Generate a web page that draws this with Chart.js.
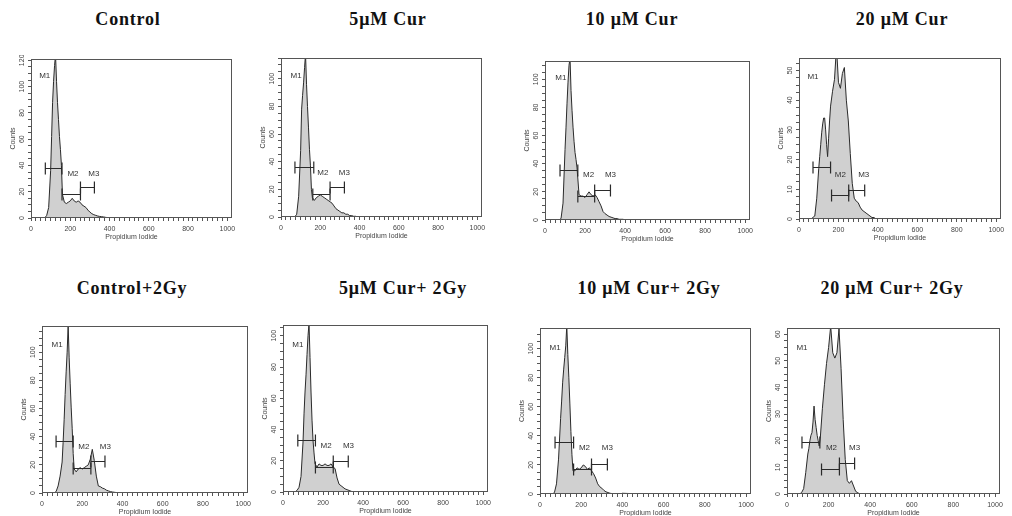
<!DOCTYPE html>
<html>
<head>
<meta charset="utf-8">
<script src="https://cdn.jsdelivr.net/npm/chart.js@4.4.0/dist/chart.umd.min.js"></script>
<style>
  body { margin: 0; background: #fff; width: 1012px; height: 516px; position: relative; overflow: hidden; }
  .ttl { position: absolute; font: bold 18px "Liberation Serif", "Times New Roman", serif; letter-spacing: 0.8px; line-height: 18px; color: #111; white-space: nowrap; transform: translateX(-50%); }
  .panel { position: absolute; }
</style>
</head>
<body>
<script>
// propidium iodide channels (x) shared by all histograms
const channels = [0, 50, 60, 70, 80, 90,
  100, 105, 110, 115, 120, 125, 130, 135, 140, 145, 150, 155, 160,
  170, 180, 190, 200, 210, 220, 230, 240, 250, 260, 270, 280, 290, 300, 310, 320, 330, 340, 350, 360, 370, 380, 390, 400,
  500, 1023];

// counts
const countsControl = [0, 0, 0, 0, 2, 8,
  36, 62, 88, 104, 116, 124, 104, 88, 75, 62, 52, 40, 18,
  12, 11, 12, 13, 15, 13, 12, 13, 12, 10, 9, 8, 6, 4.5, 3.3, 2.5, 2, 1.5, 1.2, 1, 0.8, 0.5, 0.3, 0.3,
  0, 0];
const counts5Cur = [0, 0, 0, 0, 2, 15,
  48, 78, 88, 97, 108, 118, 96, 80, 65, 49, 37, 20, 14,
  12, 14, 15, 16, 15, 14, 13, 12, 11, 10, 8, 6, 5, 4, 3, 3, 2, 2, 1, 1, 0.5, 0.5, 0, 0,
  0, 0];
const counts10Cur = [0, 0, 0, 0, 1, 12,
  50, 66, 83, 98, 110, 115, 92, 78, 66, 56, 48, 43, 37,
  18, 17, 17, 16, 18, 20, 18, 17, 18, 16, 13, 10, 6, 4.5, 3.5, 2.5, 2, 1.5, 1, 1, 0.5, 0.5, 0.5, 0,
  0, 0];
const counts20Cur = [0, 0, 0, 0.5, 1, 7,
  17, 21, 25, 29, 32, 34, 34, 30, 25, 21, 27, 33, 38,
  43, 47, 58, 46, 44, 49, 51, 40, 33, 22, 12, 7, 6, 5.5, 4, 3, 2.5, 2, 1.5, 1, 0.5, 0.5, 0, 0,
  0, 0];
const countsControl2Gy = [0, 0, 0, 1, 5, 12,
  22, 36, 52, 70, 86, 100, 119, 96, 78, 61, 46, 28, 17,
  15, 17, 18, 17, 18, 19, 20, 24, 31, 23, 12, 5, 4.5, 3.5, 3, 2, 1.5, 1, 0.7, 0.5, 0.3, 0, 0, 0,
  0, 0];
const counts5Cur2Gy = [0, 0, 0, 1, 3, 10,
  32, 50, 64, 75, 88, 100, 108, 86, 64, 46, 33, 25, 18,
  16, 18, 17, 17, 18, 17, 17, 18, 16, 15, 9, 5, 4, 3, 2, 1.5, 1, 0.5, 0, 0, 0, 0, 0, 0,
  0, 0];
const counts10Cur2Gy = [0, 0, 0, 1, 7, 24,
  52, 64, 77, 86, 94, 102, 116, 96, 80, 62, 43, 27, 16,
  16, 18, 17, 18, 20, 19, 17, 18, 16, 14, 11, 7, 5, 4, 2.5, 1.5, 1, 0.5, 0.3, 0, 0, 0, 0, 0.5,
  0, 0];
const counts20Cur2Gy = [0, 0, 0, 0.5, 2, 8,
  15, 17, 20, 22, 23, 27, 33, 28, 25, 22, 20, 18, 21,
  32, 41, 49, 55, 63, 53, 51, 53, 62, 47, 28, 13, 5, 4, 5, 3, 1, 0.5, 0, 0, 0, 0, 0, 0,
  0, 0];

const series = [countsControl, counts5Cur, counts10Cur, counts20Cur,
  countsControl2Gy, counts5Cur2Gy, counts10Cur2Gy, counts20Cur2Gy];
const titles = ['Control', '5μM Cur', '10 μM Cur', '20 μM Cur',
  'Control+2Gy', '5μM Cur+ 2Gy', '10 μM Cur+ 2Gy', '20 μM Cur+ 2Gy'];

// axis ticks
const xLabels = [0, 200, 400, 600, 800, 1000];
const yMax = [121, 115, 113, 54.2, 118.6, 106.9, 114.3, 62.3];
const yLabels = [
  [0, 20, 40, 60, 80, 100, 120], [0, 20, 40, 60, 80, 100], [0, 20, 40, 60, 80, 100], [0, 10, 20, 30, 40, 50],
  [0, 20, 40, 60, 80, 100], [0, 20, 40, 60, 80, 100], [0, 20, 40, 60, 80, 100], [0, 10, 20, 30, 40, 50, 60]
];

// marker gates M1, M2, M3: [start, end, level]
const gates = [
  [[73, 158, 38], [158, 252, 18.6], [252, 323, 23.7]],
  [[71, 167, 36], [162, 250, 16.6], [250, 323, 22]],
  [[75, 164, 35.5], [164, 248, 17], [248, 327, 21]],
  [[71, 160, 17.4], [165, 252, 8], [252, 333, 9.9]],
  [[70, 155, 37], [155, 243, 17.6], [243, 313, 22.6]],
  [[74, 162, 33], [162, 251, 16], [251, 326, 20]],
  [[73, 163, 36], [163, 250, 17], [250, 327, 21]],
  [[72, 158, 19.4], [166, 252, 9.3], [252, 325, 11.8]]
];
const gateLabels = [
  [[70, 108], [214, 34], [320, 34]],
  [[77, 102], [213, 32], [323, 32]],
  [[79, 101], [218, 32], [327, 32]],
  [[71, 48], [210, 15], [328, 15]],
  [[75, 105], [208, 33], [315, 33]],
  [[74, 94], [215, 29.5], [327, 29.5]],
  [[73, 101], [216, 32], [327, 32]],
  [[72, 55], [214, 17.4], [325, 17.4]]
];

// plot frames on the page: left, top, right, bottom
const frames = [
  [31, 59, 232, 218], [281, 58, 482, 217], [545, 61, 750, 220], [799, 58, 1001, 219],
  [42, 326, 248, 493], [283, 325, 488, 492], [540, 328, 751, 494], [787, 328, 1000, 494]
];
const titlePos = [[128, 10], [388, 10], [632, 10], [902, 10],
  [132, 278.6], [403, 278.6], [649, 278.6], [892, 278.6]];

Chart.defaults.font.family = '"Liberation Sans", Arial, sans-serif';

const framePlugin = {
  id: 'frame',
  afterDraw(chart) {
    const ca = chart.chartArea, ctx = chart.ctx;
    ctx.save();
    ctx.strokeStyle = '#555';
    ctx.lineWidth = 1;
    ctx.strokeRect(ca.left + 0.5, ca.top + 0.5, ca.width - 1, ca.height - 1);
    ctx.restore();
  }
};

function gatePlugin(i) {
  return {
    id: 'gates',
    afterDatasetsDraw(chart) {
      const xs = chart.scales.x, ys = chart.scales.y, ctx = chart.ctx;
      ctx.save();
      ctx.strokeStyle = '#2a2a2a';
      ctx.lineWidth = 1.2;
      gates[i].forEach(g => {
        const x1 = xs.getPixelForValue(g[0]), x2 = xs.getPixelForValue(g[1]);
        const y = Math.round(ys.getPixelForValue(g[2])) + 0.5;
        ctx.beginPath();
        ctx.moveTo(x1, y); ctx.lineTo(x2, y);
        ctx.moveTo(x1, y - 6); ctx.lineTo(x1, y + 6);
        ctx.moveTo(x2, y - 6); ctx.lineTo(x2, y + 6);
        ctx.stroke();
      });
      ctx.fillStyle = '#333';
      ctx.font = '8px "Liberation Sans", Arial, sans-serif';
      ctx.textAlign = 'center';
      ctx.textBaseline = 'middle';
      gateLabels[i].forEach((p, k) => {
        ctx.fillText('M' + (k + 1), xs.getPixelForValue(p[0]), ys.getPixelForValue(p[1]));
      });
      ctx.restore();
    }
  };
}

series.forEach((counts, i) => {
  const [L, T, R, B] = frames[i];
  const wrap = document.createElement('div');
  wrap.className = 'panel';
  wrap.style.left = (L - 24) + 'px';
  wrap.style.top = (T - 4) + 'px';
  const cv = document.createElement('canvas');
  cv.width = R - L + 30;
  cv.height = B - T + 28;
  cv.style.width = cv.width + 'px';
  cv.style.height = cv.height + 'px';
  wrap.appendChild(cv);
  document.body.appendChild(wrap);

  const t = document.createElement('div');
  t.className = 'ttl';
  t.textContent = titles[i];
  t.style.left = titlePos[i][0] + 'px';
  t.style.top = titlePos[i][1] + 'px';
  document.body.appendChild(t);

  const labs = yLabels[i];
  const minor = (labs[1] - labs[0]) / 4;

  new Chart(cv, {
    type: 'line',
    data: {
      datasets: [{
        data: channels.map((c, k) => ({ x: c, y: counts[k] })),
        borderColor: '#2a2a2a',
        borderWidth: 1,
        backgroundColor: '#d0d0d0',
        fill: 'origin',
        pointRadius: 0,
        tension: 0
      }]
    },
    options: {
      responsive: false,
      animation: false,
      devicePixelRatio: 1,
      layout: { padding: { top: 4, right: 6, left: 0, bottom: 0 } },
      plugins: { legend: { display: false }, tooltip: { enabled: false } },
      scales: {
        x: {
          type: 'linear', min: 0, max: 1024,
          border: { display: false },
          grid: { drawOnChartArea: false, drawTicks: true, tickLength: 3, color: '#555' },
          ticks: {
            stepSize: 25, autoSkip: false, maxRotation: 0, includeBounds: false, maxTicksLimit: 200,
            padding: 4, font: { size: 7 }, color: '#444',
            callback: v => xLabels.includes(v) ? String(v) : ''
          },
          title: { display: true, text: 'Propidium Iodide', font: { size: 7 }, color: '#444', padding: { top: 0, bottom: 1 } },
          afterFit: s => { s.height = 24; s.paddingLeft = 0; s.paddingRight = 0; }
        },
        y: {
          min: 0, max: yMax[i],
          border: { display: false },
          grid: { drawOnChartArea: false, drawTicks: true, tickLength: 3, color: '#555' },
          ticks: {
            stepSize: minor, autoSkip: false, minRotation: 90, maxRotation: 90, includeBounds: false, maxTicksLimit: 200,
            crossAlign: 'center', padding: labs[labs.length - 1] >= 100 ? 0 : 2,
            font: { size: 7 }, color: '#444',
            callback: v => labs.includes(v) ? String(v) : ''
          },
          title: { display: true, text: 'Counts', font: { size: 7 }, color: '#444', padding: { top: 2, bottom: 0 } },
          afterFit: s => { s.width = 24; s.paddingTop = 0; s.paddingBottom = 0; }
        }
      }
    },
    plugins: [framePlugin, gatePlugin(i)]
  });
});
</script>
</body>
</html>
